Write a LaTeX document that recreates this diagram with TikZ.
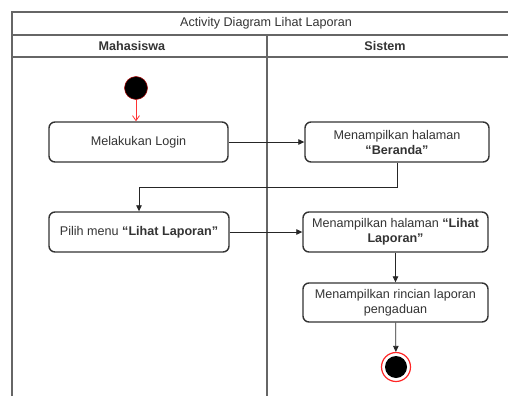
\documentclass[tikz,border=0pt]{standalone}
\usepackage{fontspec}
\setmainfont{Liberation Sans}
\usetikzlibrary{arrows.meta}
\begin{document}
\begin{tikzpicture}[x=1pt,y=-1pt,
  font=\fontsize{12.6}{15}\selectfont,
  every node/.style={text=black!80},
  act/.style={draw=black!80, line width=1.4pt, rounded corners=6pt, minimum height=40pt, align=center, inner sep=2pt},
  flow/.style={draw=black!85, line width=0.8pt, -{Triangle[length=6pt,width=5.5pt]}},
  lane/.style={draw=black!60, line width=1.1pt},
  lbl/.style={inner sep=0pt}]
\useasboundingbox (0,0) rectangle (508,396);
% swimlane frame
\draw[lane] (12,396) -- (12,12) -- (508,12);
\draw[lane] (12,35) -- (508,35);
\draw[lane] (12,57) -- (508,57);
\draw[lane] (267,35) -- (267,396);
\node[lbl] (title) at (266,23.5) {Activity Diagram Lihat Laporan};
\node[lbl] (mhs) at (132,46) {\textbf{Mahasiswa}};
\node[lbl] (sis) at (385,46) {\textbf{Sistem}};
% nodes
\node[circle, fill=black, draw=red!70!black, line width=0.5pt, minimum size=23pt, inner sep=0pt] (start) at (136,88) {};
\node[act, minimum width=179pt] (login) at (138.5,142) {Melakukan Login};
\node[act, minimum width=184pt] (beranda) at (397,142) {Menampilkan halaman\\\textbf{“Beranda”}};
\node[act, minimum width=180pt] (pilih) at (139,232) {Pilih menu \textbf{“Lihat Laporan”}};
\node[act, minimum width=185pt] (lihat) at (395.5,232) {Menampilkan halaman \textbf{“Lihat}\\\textbf{Laporan”}};
\node[act, minimum width=185pt, minimum height=39pt] (rincian) at (395.5,302.5) {Menampilkan rincian laporan\\pengaduan};
\node[circle, draw=red!85, line width=1.2pt, minimum size=29pt, inner sep=0pt] (endring) at (396,367) {};
\node[circle, fill=black, minimum size=22pt, inner sep=0pt] (end) at (396,367) {};
% connectors
\draw[draw=red!80, line width=0.8pt, -{Straight Barb[length=5pt,width=7pt]}] (start) -- (start |- login.north);
\draw[flow] (login) -- (beranda);
\draw[flow] (beranda.south) -- ++(0,25) coordinate (bend) -| (pilih.north);
\draw[flow] (pilih) -- (lihat);
\draw[flow] (lihat) -- (rincian);
\draw[flow] (rincian) -- (endring);
\end{tikzpicture}
\end{document}
